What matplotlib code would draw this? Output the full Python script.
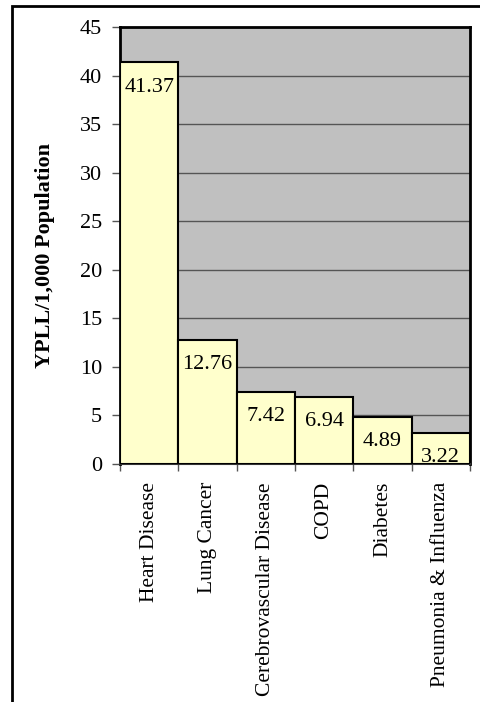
import numpy as np
import matplotlib.pyplot as plt
from matplotlib.patches import Rectangle

# datos
causas = ['Heart Disease', 'Lung Cancer', 'Cerebrovascular Disease', 'COPD',
          'Diabetes', 'Pneumonia & Influenza']
ypll = [41.37, 12.76, 7.42, 6.94, 4.89, 3.22]
yticks = [0, 5, 10, 15, 20, 25, 30, 35, 40, 45]

plt.rcParams['font.family'] = ['Liberation Serif', 'DejaVu Serif']

fig = plt.figure(figsize=(4.8, 7.02), dpi=100)
ax = fig.add_axes([0.25, 0.339, 0.729, 0.6225])

# marco exterior
fig.patches.append(Rectangle((0.025, -0.05), 1.2, 1.05 - 0.0085,
                             transform=fig.transFigure, fill=False,
                             edgecolor='black', linewidth=2))

x = np.arange(len(causas))
ax.set_facecolor('#C0C0C0')
ax.bar(x, ypll, width=1.0, color='#FFFFCC', edgecolor='black', linewidth=1.5, zorder=3)

for xi, v in zip(x, ypll):
    ax.annotate('%.2f' % v, (xi, v), xytext=(0, -11), textcoords='offset points',
                ha='center', va='top', fontsize=16, zorder=4)

ax.set_xlim(-0.5, len(causas) - 0.5)
ax.set_ylim(0, 45)
ax.set_yticks(yticks)
ax.yaxis.grid(True, color='#555555', linewidth=1)
ax.set_axisbelow(True)

ax.set_xticks(np.arange(len(causas) + 1) - 0.5)
ax.set_xticklabels([])
ax.set_xticks(x, minor=True)
ax.set_xticklabels(causas, minor=True, rotation=90, fontsize=15.5, va='top')
ax.tick_params(axis='x', which='minor', length=0, pad=13)
ax.tick_params(axis='x', which='major', length=5, width=1, color='#555555')
ax.tick_params(axis='y', length=6, width=1, color='#555555', labelsize=16, pad=7)

for s in ['left', 'top', 'right']:
    ax.spines[s].set_linewidth(2)
ax.spines['bottom'].set_linewidth(1.5)
ax.spines['bottom'].set_color('#333333')

ax.set_ylabel('YPLL/1,000 Population', fontsize=16, fontweight='bold')
ax.yaxis.set_label_coords(-0.186, 0.478)

fig.savefig('out.png', dpi=100)
